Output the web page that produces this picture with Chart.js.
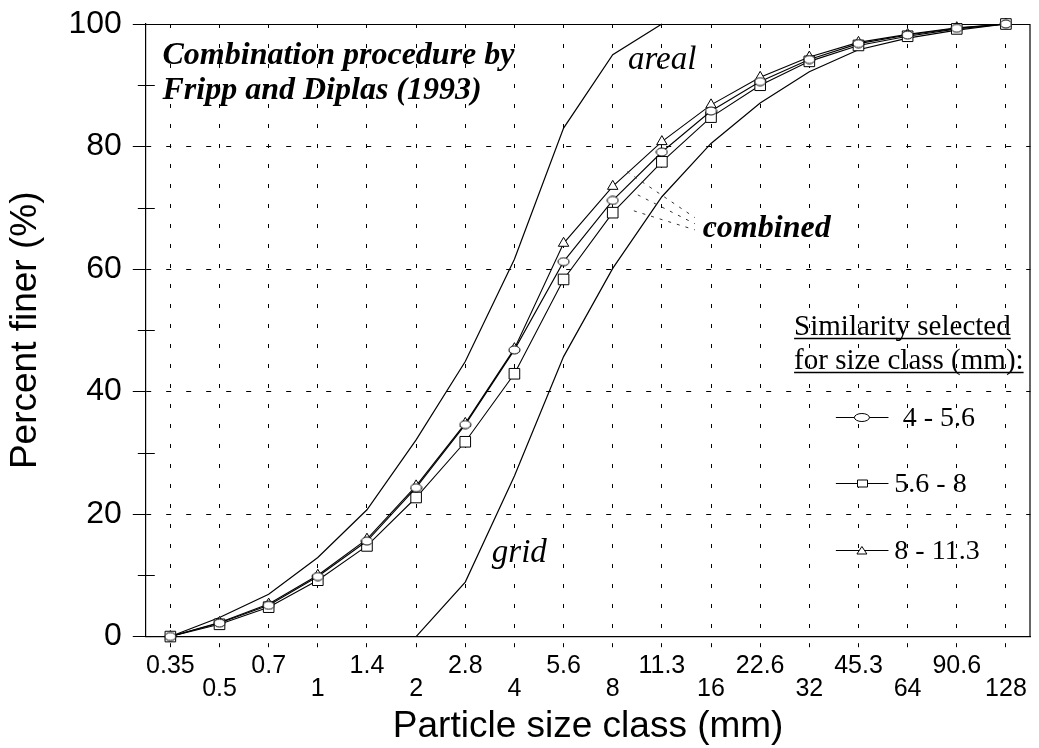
<!DOCTYPE html>
<html>
<head>
<meta charset="utf-8">
<title>Percent finer by particle size class</title>
<script src="https://cdn.jsdelivr.net/npm/chart.js@4.4.0/dist/chart.umd.min.js"></script>
<style>
  html, body { margin: 0; padding: 0; background: #fff; }
  #wrap { width: 1039px; height: 748px; }
</style>
</head>
<body>
<div id="wrap"><canvas id="psdChart" width="1039" height="748"></canvas></div>
<script>
// size classes (mm), one per x category
const sizeClasses = ['0.35', '0.5', '0.7', '1', '1.4', '2', '2.8', '4', '5.6', '8',
                     '11.3', '16', '22.6', '32', '45.3', '64', '90.6', '128'];

// percent finer
const arealFiner = [0, 3.1, 6.9, 12.9, 20.7, 32.1, 44.9, 61.6, 83.0, 95.0, 100,
                    null, null, null, null, null, null, null];
const gridFiner = [null, null, null, null, null, 0, 8.9, 26.2, 45.7, 60.1, 71.8,
                   80.5, 87.1, 92.2, 95.8, 97.7, 99.0, 100];
const combined4to56 = [0, 2.2, 5.1, 9.8, 15.6, 24.3, 34.6, 46.8, 61.2, 71.2, 79.1,
                       85.8, 90.6, 94.2, 96.8, 98.2, 99.3, 100];
const combined56to8 = [0, 2.0, 4.8, 9.2, 14.8, 22.7, 31.8, 42.9, 58.3, 69.2, 77.5,
                       84.8, 90.0, 93.9, 96.5, 98.0, 99.2, 100];
const combined8to113 = [0, 2.3, 5.3, 10.0, 15.9, 24.6, 34.8, 47.0, 64.2, 73.5, 80.8,
                        86.8, 91.3, 94.6, 97.0, 98.3, 99.4, 100];
const seriesNames = ['4 - 5.6', '5.6 - 8', '8 - 11.3'];

const yTicks = [0, 20, 40, 60, 80, 100];

const SANS = "'Liberation Sans', Arial, sans-serif";
const SERIF = "'Liberation Serif', 'Times New Roman', serif";

// little ellipse used as the marker of the first series
function makeEllipse(w, h) {
    const c = document.createElement('canvas');
    c.width = w; c.height = h;
    const g = c.getContext('2d');
    g.beginPath();
    g.ellipse(w / 2, h / 2, w / 2 - 1, h / 2 - 1, 0, 0, Math.PI * 2);
    g.fillStyle = '#fff';
    g.fill();
    g.strokeStyle = '#000';
    g.lineWidth = 1;
    g.stroke();
    return c;
}
const ellipseMark = makeEllipse(13, 10);

function markerSeries(label, values, style, radius) {
    return {
        label: label,
        data: values,
        borderColor: '#000',
        borderWidth: 1.1,
        pointStyle: style,
        pointRadius: radius,
        pointBackgroundColor: '#fff',
        pointBorderColor: '#000',
        pointBorderWidth: 1,
        tension: 0,
        clip: false
    };
}

function plainSeries(label, values) {
    return {
        label: label,
        data: values,
        borderColor: '#000',
        borderWidth: 1.2,
        pointRadius: 0,
        tension: 0,
        spanGaps: false,
        clip: false
    };
}

// text notes placed in data units (category index, percent)
const notes = [
    { text: 'Combination procedure by', at: [-0.16, 93.5], font: 'italic bold 32px ' + SERIF },
    { text: 'Fripp and Diplas (1993)', at: [-0.16, 87.8], font: 'italic bold 32px ' + SERIF },
    { text: 'areal', at: [9.31, 92.7], font: 'italic 33px ' + SERIF },
    { text: 'grid', at: [6.54, 12.2], font: 'italic 33px ' + SERIF },
    { text: 'combined', at: [10.83, 65.3], font: 'italic bold 32px ' + SERIF }
];
const leaders = [
    [[9.29, 75.9], [10.67, 68.4]],
    [[9.51, 72.1], [10.67, 67.4]],
    [[9.43, 69.5], [10.67, 66.4]]
];

const overlayPlugin = {
    id: 'overlay',
    beforeDatasetsDraw(chart) {
        const { ctx, chartArea: a, scales: { y } } = chart;
        ctx.save();
        ctx.strokeStyle = '#000';
        ctx.lineWidth = 1.2;
        ctx.beginPath();
        ctx.moveTo(a.left, a.top + 0.5);
        ctx.lineTo(a.right - 0.5, a.top + 0.5);
        ctx.lineTo(a.right - 0.5, a.bottom);
        ctx.stroke();
        // minor ticks at 10, 30, ...
        ctx.lineWidth = 1;
        for (let v = 10; v < 100; v += 20) {
            const py = Math.round(y.getPixelForValue(v)) + 0.5;
            ctx.beginPath();
            ctx.moveTo(a.left - 8, py);
            ctx.lineTo(a.left + 9, py);
            ctx.stroke();
        }
        ctx.restore();
    },
    afterDatasetsDraw(chart) {
        const { ctx, scales: { x, y } } = chart;
        const P = (pt) => [x.getPixelForValue(pt[0]), y.getPixelForValue(pt[1])];
        ctx.save();
        ctx.fillStyle = '#000';
        ctx.textBaseline = 'alphabetic';
        ctx.textAlign = 'left';
        notes.forEach(n => {
            const [px, py] = P(n.at);
            ctx.font = n.font;
            ctx.fillText(n.text, px, py);
        });

        ctx.strokeStyle = '#333';
        ctx.lineWidth = 1;
        ctx.setLineDash([3, 6]);
        leaders.forEach(l => {
            const [x1, y1] = P(l[0]);
            const [x2, y2] = P(l[1]);
            ctx.beginPath();
            ctx.moveTo(x1, y1);
            ctx.lineTo(x2, y2);
            ctx.stroke();
        });
        ctx.setLineDash([]);

        // legend
        ctx.strokeStyle = '#000';
        ctx.font = '29px ' + SERIF;
        const head = [['Similarity selected', 49.3], ['for size class (mm):', 43.7]];
        head.forEach(h => {
            const [hx, hy] = P([12.69, h[1]]);
            ctx.fillText(h[0], hx, hy);
            const w = ctx.measureText(h[0]).width;
            ctx.lineWidth = 1.5;
            ctx.beginPath();
            ctx.moveTo(hx, Math.round(hy) + 3.5);
            ctx.lineTo(hx + w, Math.round(hy) + 3.5);
            ctx.stroke();
        });

        const rows = [35.9, 25.1, 14.2];
        const textAt = [14.9, 14.73, 14.73];
        ctx.font = '28px ' + SERIF;
        ctx.textBaseline = 'middle';
        rows.forEach((rv, i) => {
            const [lx1, ly] = P([13.54, rv]);
            const [lx2] = P([14.61, rv]);
            const [mx] = P([14.07, rv]);
            const yy = Math.round(ly) + 0.5;
            ctx.lineWidth = 1;
            ctx.beginPath();
            ctx.moveTo(lx1, yy);
            ctx.lineTo(lx2, yy);
            ctx.stroke();
            ctx.fillStyle = '#fff';
            ctx.beginPath();
            if (i === 0) {
                ctx.ellipse(mx, yy, 7.5, 4, 0, 0, Math.PI * 2);
            } else if (i === 1) {
                ctx.rect(Math.round(mx) - 4.5, yy - 3.5, 10, 7);
            } else {
                ctx.moveTo(mx, yy - 4);
                ctx.lineTo(mx + 5, yy + 3.5);
                ctx.lineTo(mx - 5, yy + 3.5);
                ctx.closePath();
            }
            ctx.fill();
            ctx.stroke();
            ctx.fillStyle = '#000';
            const [tx] = P([textAt[i], rv]);
            ctx.fillText(seriesNames[i], tx, ly + 2);
        });
        ctx.restore();
    }
};

const ctx = document.getElementById('psdChart').getContext('2d');
new Chart(ctx, {
    type: 'line',
    data: {
        labels: sizeClasses,
        datasets: [
            markerSeries(seriesNames[0], combined4to56, ellipseMark, 5),
            markerSeries(seriesNames[1], combined56to8, 'rect', 7.5),
            markerSeries(seriesNames[2], combined8to113, 'triangle', 6),
            plainSeries('areal', arealFiner),
            plainSeries('grid', gridFiner)
        ]
    },
    options: {
        responsive: false,
        animation: false,
        devicePixelRatio: 1,
        layout: { padding: { top: 24, right: 5, bottom: 0, left: 4 } },
        plugins: {
            legend: { display: false },
            tooltip: { enabled: false }
        },
        scales: {
            x: {
                type: 'category',
                offset: true,
                grid: {
                    offset: false,
                    color: '#000',
                    lineWidth: 1,
                    tickColor: '#000',
                    tickLength: 13,
                    tickBorderDash: [0, 6, 4, 20]
                },
                border: { color: '#000', width: 1.2, dash: [4, 16] },
                ticks: {
                    autoSkip: false,
                    maxRotation: 0,
                    minRotation: 0,
                    padding: 5.5,
                    color: '#000',
                    font: { family: SANS, size: 25, lineHeight: 0.92 },
                    callback: function (value, index) {
                        const lab = sizeClasses[index];
                        return index % 2 === 0 ? [lab] : ['', lab];
                    }
                },
                title: {
                    display: true,
                    text: 'Particle size class (mm)',
                    color: '#000',
                    font: { family: SANS, size: 37, lineHeight: 1.12 },
                    padding: { top: 0, bottom: 0 }
                }
            },
            y: {
                min: 0,
                max: 100,
                ticks: {
                    stepSize: 10,
                    padding: 11,
                    color: '#000',
                    font: { family: SANS, size: 32, lineHeight: 0.8 },
                    callback: (v) => yTicks.includes(v) ? String(v) : ''
                },
                grid: {
                    color: (c) => (c.tick && c.tick.value % 20 === 0 && c.tick.value > 0 && c.tick.value < 100) ? '#000' : 'rgba(0,0,0,0)',
                    tickColor: (c) => (c.tick && c.tick.value % 20 === 0) ? '#000' : 'rgba(0,0,0,0)',
                    lineWidth: 1,
                    tickLength: 13
                },
                border: { color: '#000', width: 1.2, dash: [5, 15] },
                title: {
                    display: true,
                    text: 'Percent finer (%)',
                    color: '#000',
                    font: { family: SANS, size: 37, lineHeight: 1.2 },
                    padding: { top: 0, bottom: 9 }
                }
            }
        }
    },
    plugins: [overlayPlugin]
});
</script>
</body>
</html>
